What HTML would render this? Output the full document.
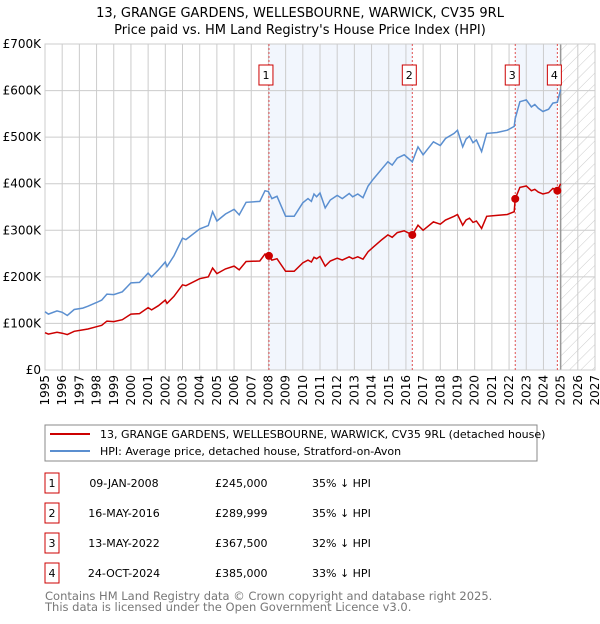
<!DOCTYPE html>
<html><head><meta charset="utf-8"><style>
body{margin:0;background:#fff;font-family:"DejaVu Sans","Liberation Sans",sans-serif;}
svg text{font-family:"DejaVu Sans","Liberation Sans",sans-serif;}
</style></head><body>
<svg id="c" width="600" height="620" xmlns="http://www.w3.org/2000/svg">
<defs><pattern id="hatch" width="8" height="8" patternUnits="userSpaceOnUse" patternTransform="rotate(45)"><line x1="0" y1="0" x2="0" y2="8" stroke="#ccc" stroke-width="1"/></pattern></defs>
<text x="300" y="17" text-anchor="middle" font-size="13">13, GRANGE GARDENS, WELLESBOURNE, WARWICK, CV35 9RL</text>
<text x="300" y="34" text-anchor="middle" font-size="13">Price paid vs. HM Land Registry's House Price Index (HPI)</text>
<g id="plot"></g>
<rect x="45" y="425" width="492" height="36" fill="#fff" stroke="#888"/>
<line x1="50" y1="434" x2="90" y2="434" stroke="#cc0000" stroke-width="2"/>
<text x="100" y="438" font-size="11">13, GRANGE GARDENS, WELLESBOURNE, WARWICK, CV35 9RL (detached house)</text>
<line x1="50" y1="451" x2="90" y2="451" stroke="#5b8fd0" stroke-width="2"/>
<text x="100" y="455" font-size="11">HPI: Average price, detached house, Stratford-on-Avon</text>
<g id="tbl"></g>
<text x="45" y="600" font-size="11.5" fill="#777">Contains HM Land Registry data © Crown copyright and database right 2025.</text>
<text x="45" y="611" font-size="11.5" fill="#777">This data is licensed under the Open Government Licence v3.0.</text>
</svg>
<script>
const years=[1995.0,1995.2,1995.7,1996.0,1996.3,1996.7,1997.2,1997.5,1998.0,1998.3,1998.6,1999.0,1999.5,2000.0,2000.5,2001.0,2001.2,2001.6,2002.0,2002.1,2002.5,2003.0,2003.2,2004.0,2004.5,2004.75,2005.0,2005.5,2006.0,2006.3,2006.7,2007.5,2007.8,2008.0,2008.2,2008.5,2009.0,2009.5,2010.0,2010.3,2010.5,2010.65,2010.8,2011.0,2011.3,2011.6,2012.0,2012.3,2012.7,2012.9,2013.2,2013.5,2013.8,2014.1,2014.6,2014.95,2015.2,2015.5,2015.9,2016.37,2016.7,2017.0,2017.6,2018.0,2018.3,2018.8,2019.0,2019.3,2019.5,2019.7,2019.9,2020.1,2020.4,2020.7,2021.3,2021.9,2022.3,2022.36,2022.63,2023.0,2023.3,2023.5,2023.7,2023.97,2024.3,2024.55,2024.81,2025.0];
const hpi=[125,120,127,124,117,130,133,137,145,150,163,162,168,187,188,208,200,215,232,222,245,283,280,303,310,340,320,335,345,333,360,362,385,383,368,373,330,330,359,368,362,378,372,380,348,365,375,368,379,372,378,370,395,410,432,447,440,455,462,447,479,462,490,482,497,508,515,479,496,502,488,494,469,508,510,515,523,540,576,580,565,570,562,555,560,573,575,602];
const price=[80,77,81,79,76,83,86,88,93,96,105,104,108,120,121,134,129,138,150,143,158,183,181,196,200,219,207,217,223,215,233,234,249,246,236,239,212,212,230,236,232,242,239,244,223,234,240,236,243,239,243,238,254,264,280,290,285,295,299,290,311,300,318,313,322,330,334,311,322,326,317,320,304,330,332,334,340,367.5,392,395,385,388,382,378,381,390,385,400];
const saleDates=[2008.03,2016.37,2022.36,2024.81];
const salePrices=[245,289.999,367.5,385];
const saleLabels=["1","2","3","4"];
const saleDateText=["09-JAN-2008","16-MAY-2016","13-MAY-2022","24-OCT-2024"];
const salePriceText=["£245,000","£289,999","£367,500","£385,000"];
const salePct=["35% ↓ HPI","35% ↓ HPI","32% ↓ HPI","33% ↓ HPI"];
const yTicks=[0,100,200,300,400,500,600,700];
const yTickLabels=["£0","£100K","£200K","£300K","£400K","£500K","£600K","£700K"];
const xTicks=[1995,1996,1997,1998,1999,2000,2001,2002,2003,2004,2005,2006,2007,2008,2009,2010,2011,2012,2013,2014,2015,2016,2017,2018,2019,2020,2021,2022,2023,2024,2025,2026,2027];

const X0=45,X1=595,Y0=370,Y1=44;
const sx=v=>X0+(v-1995)/(2027-1995)*(X1-X0);
const sy=v=>Y0-v/700*(Y0-Y1);
const NS="http://www.w3.org/2000/svg";
const plot=document.getElementById('plot');
function mk(tag,attrs,parent){const e=document.createElementNS(NS,tag);for(const k in attrs)e.setAttribute(k,attrs[k]);(parent||plot).appendChild(e);return e;}

let e;
e=mk('rect',{x:X0,y:Y1,width:X1-X0,height:Y0-Y1,fill:'#fff'});


e=mk('rect',{x:sx(saleDates[0]),y:Y1,width:sx(saleDates[1])-sx(saleDates[0]),height:Y0-Y1,fill:'#f2f6fd'});


e=mk('rect',{x:sx(saleDates[2]),y:Y1,width:sx(saleDates[3])-sx(saleDates[2]),height:Y0-Y1,fill:'#f2f6fd'});


e=mk('rect',{x:sx(2025),y:Y1,width:X1-sx(2025),height:Y0-Y1,fill:'url(#hatch)'});


xTicks.forEach(t=>{const g=mk('line',{x1:sx(t),x2:sx(t),y1:Y1,y2:Y0,stroke:'#ccc','stroke-width':1});


const l=mk('text',{x:0,y:0,'font-size':12,'text-anchor':'end',transform:`translate(${sx(t)+4},${Y0+5}) rotate(-90)`});l.textContent=t;

});
yTicks.forEach((t,i)=>{const g=mk('line',{x1:X0,x2:X1,y1:sy(t),y2:sy(t),stroke:'#ccc','stroke-width':1});


const l=mk('text',{x:41,y:sy(t)+4,'font-size':12,'text-anchor':'end'});l.textContent=yTickLabels[i];

});
e=mk('line',{x1:sx(2025),x2:sx(2025),y1:Y1,y2:Y0,stroke:'#999','stroke-width':1.5});


e=mk('rect',{x:X0,y:Y1,width:X1-X0,height:Y0-Y1,fill:'none',stroke:'#ccc'});


saleDates.forEach((d,i)=>{const l=mk('line',{x1:sx(d),x2:sx(d),y1:Y1,y2:Y0,stroke:'#e05050','stroke-width':1,'stroke-dasharray':'2,2'});


const b=mk('rect',{x:sx(d)-10,y:65,width:14,height:20,fill:'#fff',stroke:'#cc0000'});


const t=mk('text',{x:sx(d)-3,y:79,'font-size':11,'text-anchor':'middle'});t.textContent=saleLabels[i];

});
const pts=a=>a.map((v,i)=>sx(years[i]).toFixed(1)+','+sy(v).toFixed(1)).join(' ');
e=mk('polyline',{points:pts(hpi),fill:'none',stroke:'#5b8fd0','stroke-width':1.5});


e=mk('polyline',{points:pts(price),fill:'none',stroke:'#cc0000','stroke-width':1.5});


saleDates.forEach((d,i)=>{const c=mk('circle',{cx:sx(d),cy:sy(salePrices[i]),r:4,fill:'#cc0000'});

});
const tbl=document.getElementById('tbl');
saleDates.forEach((d,i)=>{const y=473+i*30;
const b=mk('rect',{x:45,y:y,width:14,height:20,fill:'#fff',stroke:'#cc0000'},tbl);


const n=mk('text',{x:52,y:y+14,'font-size':11,'text-anchor':'middle'},tbl);n.textContent=saleLabels[i];


const a=mk('text',{x:124,y:y+14,'font-size':11,'text-anchor':'middle'},tbl);a.textContent=saleDateText[i];


const p=mk('text',{x:215,y:y+14,'font-size':11},tbl);p.textContent=salePriceText[i];


const q=mk('text',{x:312,y:y+14,'font-size':11},tbl);q.textContent=salePct[i];

});
</script>
</body></html>
